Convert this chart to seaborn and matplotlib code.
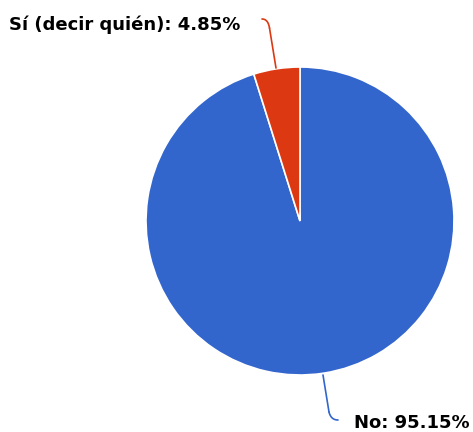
import matplotlib
matplotlib.use("Agg")
import matplotlib.pyplot as plt
import seaborn as sns
import numpy as np

sns.set_theme(style="white")
plt.rcParams['font.family'] = ['DejaVu Sans']

labels = ["No", "Sí (decir quién)"]
values = [95.15, 4.85]
colors = ["#3366CC", "#DC3912"]

W, H = 473, 432
fig = plt.figure(figsize=(W / 100, H / 100), dpi=100)
ax = fig.add_axes([0, 0, 1, 1])

cx, cy, r = 300, H - 221, 154
ax.pie(values, colors=colors, startangle=90, counterclock=False,
       center=(cx, cy), radius=r, frame=True,
       wedgeprops=dict(edgecolor="white", linewidth=1.2))
ax.set_xlim(0, W)
ax.set_ylim(0, H)
ax.set_aspect("equal")
ax.axis("off")

# leader lines
def leader(p0, p1, p2, color):
    t = np.linspace(0, 1, 30)
    x = (1 - t) ** 2 * p0[0] + 2 * (1 - t) * t * p1[0] + t ** 2 * p2[0]
    y = (1 - t) ** 2 * p0[1] + 2 * (1 - t) * t * p1[1] + t ** 2 * p2[1]
    ax.plot(x, H - y, color=color, lw=1.2, solid_capstyle="round")

ax.plot([276, 269.5], [H - 68, H - 28], color=colors[1], lw=1.2)
leader((269.5, 28), (268, 19), (262, 19), colors[1])
ax.plot([323, 329], [H - 375, H - 412], color=colors[0], lw=1.2)
leader((329, 412), (331, 420), (338, 420), colors[0])

ax.text(9, H - 25, f"{labels[1]}: {values[1]:.2f}%", fontsize=13, fontweight="bold",
        ha="left", va="center", color="black")
ax.text(354, H - 423, f"{labels[0]}: {values[0]:.2f}%", fontsize=13, fontweight="bold",
        ha="left", va="center", color="black")

fig.savefig("out.png", dpi=100)
